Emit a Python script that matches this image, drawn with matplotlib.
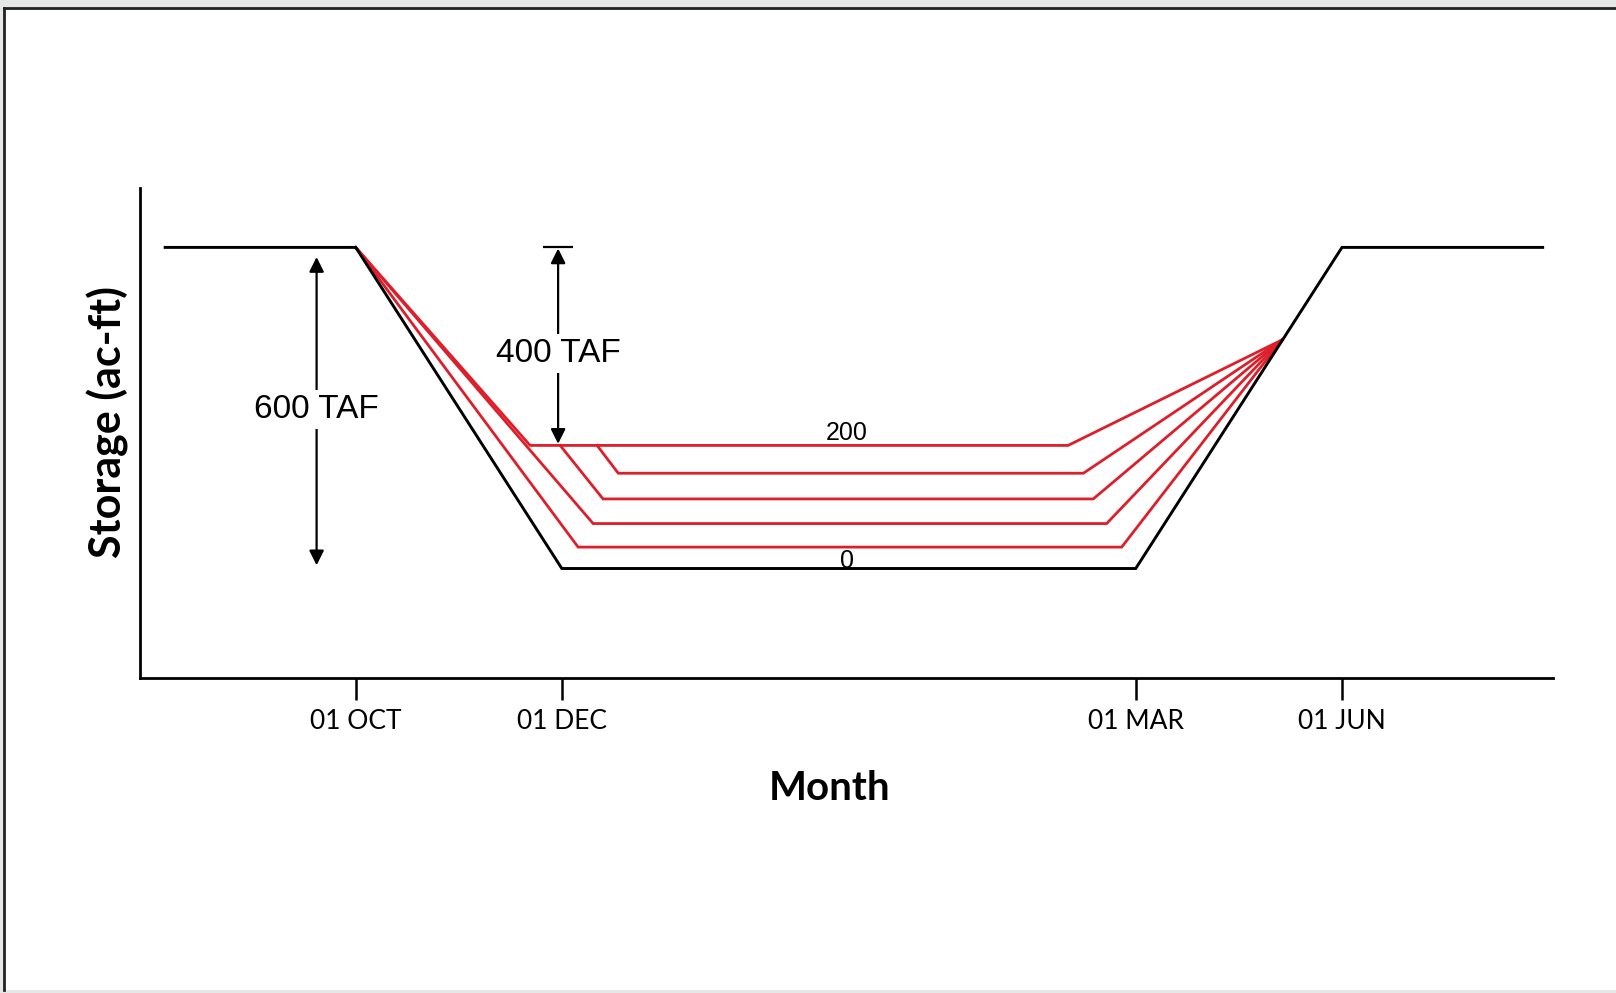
import numpy as np
import matplotlib.pyplot as plt
from matplotlib.patches import Rectangle
from matplotlib.lines import Line2D

# schematic x positions (01 OCT = 0, 01 DEC = 1), storage in TAF
tick_pos = [0.0, 1.0, 3.785, 4.786]
tick_labels = ["01 OCT", "01 DEC", "01 MAR", "01 JUN"]

# black curve
rule_x = [-0.925, 0.0, 1.0, 3.785, 4.786, 5.760]
rule_y = [600, 600, 0, 0, 600, 600]

# red curves: start, knee going down, flat level, knee going up, meet point
red_start_x = [0.0, 1.171, 0.992, 0.0, 0.0]
red_start_y = [600, 230, 230, 600, 600]
red_down_x = [0.846, 1.274, 1.200, 1.152, 1.079]
red_level = [230, 178, 130, 84, 40]
red_up_x = [3.457, 3.531, 3.579, 3.644, 3.717]
meet_x, meet_y = 4.494, 427

RED = "#dc1f2a"
num_font = "Liberation Sans"
lab_font = "Lato"

fig = plt.figure(figsize=(16.16, 9.93), dpi=100)
fig.patch.set_facecolor("#e6e8e8")
fig.patches.append(Rectangle((4/1616, 3/993), 1, 1 - 12/993, transform=fig.transFigure,
                             facecolor="white", edgecolor="none", zorder=-10))
fig.lines.append(Line2D([4/1616, 1], [1 - 8/993, 1 - 8/993], transform=fig.transFigure,
                        color="#222222", lw=2, zorder=-5))
fig.lines.append(Line2D([4/1616, 4/1616], [3/993, 1 - 8/993], transform=fig.transFigure,
                        color="#222222", lw=2, zorder=-5))

ax = fig.add_axes([140/1616, (993-678)/993, 1413/1616, 490/993])
ax.set_facecolor("none")

for i in range(len(red_level)):
    xs = [red_start_x[i], red_down_x[i], red_up_x[i], meet_x]
    ys = [red_start_y[i], red_level[i], red_level[i], meet_y]
    ax.plot(xs, ys, color=RED, lw=2.0, solid_joinstyle="miter", zorder=2)

ax.plot(rule_x, rule_y, color="black", lw=2.1, solid_joinstyle="miter", zorder=3)

# 600 TAF arrow
ax.annotate("", xy=(-0.19, 582), xytext=(-0.19, 6),
            arrowprops=dict(arrowstyle="<|-|>", color="black", lw=1.6,
                            mutation_scale=22, shrinkA=0, shrinkB=0))
ax.text(-0.19, 298, "600 TAF", ha="center", va="center", fontsize=24,
        family=num_font, bbox=dict(facecolor="white", edgecolor="none", pad=3))

# 400 TAF arrow
ax.hlines(600, 0.91, 1.055, color="black", lw=1.6)
ax.annotate("", xy=(0.982, 598), xytext=(0.982, 233),
            arrowprops=dict(arrowstyle="<|-|>", color="black", lw=1.6,
                            mutation_scale=22, shrinkA=0, shrinkB=0))
ax.text(0.982, 402, "400 TAF", ha="center", va="center", fontsize=24,
        family=num_font, bbox=dict(facecolor="white", edgecolor="none", pad=3))

ax.text(2.384, 253, "200", ha="center", va="center", fontsize=18, family=num_font)
ax.text(2.384, 14, "0", ha="center", va="center", fontsize=18, family=num_font, zorder=1)

ax.set_xlim(-1.047, 5.81)
ax.set_ylim(-204.6, 711)
for s in ["top", "right"]:
    ax.spines[s].set_visible(False)
for s in ["left", "bottom"]:
    ax.spines[s].set_linewidth(2.0)
ax.set_yticks([])
ax.set_xticks(tick_pos)
ax.set_xticklabels(tick_labels, family=lab_font, fontsize=19)
ax.tick_params(axis="x", length=16, width=1.8, pad=6)

ax.set_xlabel("Month", family=lab_font, fontsize=29, fontweight="bold")
ax.xaxis.set_label_coords(0.488, -0.187)
ax.set_ylabel("Storage (ac-ft)", family=lab_font, fontsize=31, fontweight="bold")
ax.yaxis.set_label_coords(-0.008, 0.522)

fig.savefig("out.png", dpi=100, facecolor=fig.get_facecolor())
